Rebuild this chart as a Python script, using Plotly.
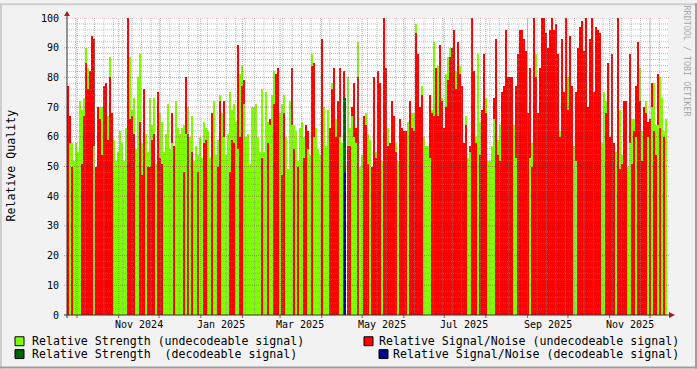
import pandas as pd
import plotly.graph_objects as go

# ---------------- data ----------------
SAMPLE_START = "2024-09-24 07:25"
SAMPLE_STEP_HOURS = 35.69

# Relative Strength (undecodeable signal)
strength = [
    0, 58, 58, 52, 58, 55, 72, 69, 73, 90, 83, 0, 0, 57, 0, 0, 70, 70, 0, 0,
    67, 87, 0, 59, 52, 55, 62, 58, 52, 63, 0, 87, 69, 73, 56, 80, 88, 58, 0, 61,
    55, 73, 64, 73, 51, 0, 68, 65, 55, 61, 71, 56, 58, 0, 72, 63, 61, 63, 64, 61,
    70, 60, 67, 52, 57, 54, 60, 53, 65, 63, 62, 53, 0, 72, 54, 59, 74, 68, 60, 54,
    61, 75, 69, 71, 65, 56, 81, 84, 71, 60, 61, 51, 70, 70, 71, 60, 55, 76, 55, 75,
    65, 64, 74, 82, 0, 0, 68, 71, 74, 60, 49, 72, 64, 64, 62, 52, 63, 65, 60, 0,
    56, 54, 88, 60, 63, 56, 54, 0, 70, 57, 69, 0, 78, 0, 66, 0, 60, 58, 0, 0,
    80, 63, 67, 60, 58, 92, 50, 54, 0, 68, 61, 59, 0, 0, 55, 0, 0, 52, 0, 0,
    63, 0, 0, 0, 58, 52, 0, 0, 0, 0, 65, 0, 68, 68, 98, 0, 0, 77, 60, 57,
    57, 53, 69, 92, 0, 84, 0, 73, 0, 81, 87, 90, 0, 0, 82, 0, 84, 0, 0, 67,
    53, 55, 0, 0, 60, 88, 65, 0, 0, 73, 52, 52, 57, 66, 0, 59, 64, 0, 0, 0,
    0, 0, 0, 64, 53, 0, 0, 0, 0, 0, 0, 53, 58, 0, 88, 0, 0, 0, 0, 0,
    0, 0, 0, 0, 0, 0, 62, 0, 0, 0, 80, 0, 0, 57, 52, 0, 0, 0, 0, 0,
    0, 0, 0, 0, 0, 0, 0, 58, 75, 72, 0, 0, 0, 0, 55, 0, 69, 54, 0, 0,
    50, 58, 66, 66, 60, 0, 83, 62, 0, 72, 60, 0, 70, 78, 64, 64, 80, 73, 62, 66,
]

# Relative Signal/Noise (undecodeable signal)
snr = [
    77, 67, 50, 0, 0, 0, 0, 51, 67, 85, 76, 82, 94, 93, 50, 70, 66, 54, 77, 78,
    59, 80, 68, 0, 0, 0, 0, 0, 0, 0, 100, 66, 67, 61, 0, 0, 65, 47, 76, 0,
    50, 50, 59, 61, 0, 75, 53, 51, 0, 0, 0, 0, 68, 57, 0, 0, 0, 0, 48, 80,
    61, 0, 55, 0, 0, 48, 0, 0, 58, 59, 0, 0, 68, 0, 0, 50, 72, 0, 72, 0,
    0, 48, 59, 58, 0, 91, 60, 77, 79, 0, 0, 0, 0, 0, 0, 0, 0, 53, 0, 0,
    58, 66, 0, 71, 81, 83, 0, 47, 68, 0, 0, 0, 83, 56, 0, 50, 0, 0, 53, 64,
    62, 0, 84, 85, 0, 0, 0, 93, 0, 0, 0, 63, 76, 83, 60, 72, 83, 0, 82, 0,
    57, 57, 70, 78, 63, 80, 0, 0, 67, 64, 51, 0, 50, 80, 53, 82, 78, 0, 100, 83,
    57, 58, 72, 67, 55, 0, 66, 63, 62, 62, 0, 72, 63, 62, 95, 88, 70, 74, 0, 0,
    0, 74, 68, 67, 83, 67, 91, 72, 63, 70, 79, 87, 90, 96, 76, 92, 81, 77, 58, 64,
    0, 57, 100, 82, 58, 0, 54, 69, 88, 68, 0, 0, 0, 73, 93, 54, 52, 75, 77, 96,
    80, 80, 80, 0, 77, 88, 96, 96, 93, 89, 68, 83, 50, 100, 80, 68, 83, 100, 100, 95,
    90, 96, 100, 96, 98, 88, 60, 93, 75, 100, 69, 94, 77, 0, 75, 90, 97, 99, 89, 100,
    70, 93, 100, 75, 97, 96, 95, 0, 0, 68, 85, 60, 88, 58, 0, 100, 49, 51, 72, 72,
    0, 88, 51, 62, 77, 92, 72, 52, 70, 68, 65, 66, 78, 62, 54, 81, 63, 0, 60, 0,
]

# Decodeable signal (only one sample in the period)
decoded_times = ["2025-04-18 08:00"]
decoded_strength = [73]
decoded_snr = [48]

month_labels = ["Nov 2024", "Jan 2025", "Mar 2025", "May 2025",
                "Jul 2025", "Sep 2025", "Nov 2025"]
month_label_dates = ["2024-11-16", "2025-01-16", "2025-03-16", "2025-05-16",
                     "2025-07-16", "2025-09-16", "2025-11-16"]
y_ticks = list(range(0, 101, 10))

# ---------------- styling ----------------
LIME = "#80FF00"
RED = "#FF0000"
DKGREEN = "#006400"
BLUE = "#000090"
FONT = "DejaVu Sans Mono"

W, H = 697, 369
PL, PR, PT, PB = 67, 668, 15, 315   # plot area in pixels


def px(x):
    return (x - PL) / (PR - PL)


def py(y):
    return (PB - y) / (PB - PT)


step = pd.Timedelta(hours=SAMPLE_STEP_HOURS)
times = pd.Timestamp(SAMPLE_START) + step * pd.RangeIndex(len(strength))
width_ms = step.total_seconds() * 1000 * 1.04

tall = [max(s, n) for s, n in zip(strength, snr)]
tall_col = [LIME if s >= n else RED for s, n in zip(strength, snr)]
short = [min(s, n) for s, n in zip(strength, snr)]
short_col = [LIME if s < n else RED for s, n in zip(strength, snr)]

fig = go.Figure()
fig.add_trace(go.Bar(x=times, y=tall, width=width_ms,
                     marker=dict(color=tall_col, line=dict(width=0)),
                     hoverinfo="skip", showlegend=False))
fig.add_trace(go.Bar(x=times, y=short, width=width_ms,
                     marker=dict(color=short_col, line=dict(width=0)),
                     hoverinfo="skip", showlegend=False))
fig.add_trace(go.Bar(x=pd.to_datetime(decoded_times), y=decoded_strength,
                     width=1.1 * 86400000,
                     marker=dict(color=DKGREEN, line=dict(width=0)),
                     hoverinfo="skip", showlegend=False))
fig.add_trace(go.Bar(x=pd.to_datetime(decoded_times), y=decoded_snr,
                     width=1.1 * 86400000,
                     marker=dict(color=BLUE, line=dict(width=0)),
                     hoverinfo="skip", showlegend=False))

shapes = []
GRID = "rgba(140,140,140,0.55)"
MGRID = "rgba(150,40,40,0.45)"
DOT = "1px,1px"

# horizontal grid
for v in range(2, 100, 2):
    if v % 10 == 0:
        continue
    shapes.append(dict(type="line", xref="paper", yref="y", x0=0, x1=1, y0=v, y1=v,
                       line=dict(color=GRID, width=1, dash=DOT), layer="above"))
for v in range(10, 101, 10):
    shapes.append(dict(type="line", xref="paper", yref="y", x0=px(PL - 3), x1=px(PR + 2),
                       y0=v, y1=v, line=dict(color=MGRID, width=1, dash=DOT), layer="above"))

# vertical grid: weeks (minor) and months (major)
for d in pd.date_range("2024-09-30", "2025-12-14", freq="7D"):
    shapes.append(dict(type="line", xref="x", yref="paper", x0=d, x1=d, y0=0, y1=1,
                       line=dict(color=GRID, width=1, dash=DOT), layer="above"))
for d in pd.date_range("2024-10-01", "2025-12-01", freq="MS"):
    shapes.append(dict(type="line", xref="x", yref="paper", x0=d, x1=d, y0=py(PB + 3), y1=1,
                       line=dict(color=MGRID, width=1, dash=DOT), layer="above"))
    shapes.append(dict(type="line", xref="x", yref="paper", x0=d, x1=d, y0=py(PB + 3), y1=0,
                       line=dict(color="rgba(190,60,60,0.8)", width=1), layer="above"))

# axes lines
AX = "#333333"
shapes.append(dict(type="line", xref="paper", yref="paper", x0=px(PL - 3), x1=px(PR + 3),
                   y0=0, y1=0, line=dict(color=AX, width=1), layer="above"))
shapes.append(dict(type="line", xref="paper", yref="paper", x0=0, x1=0,
                   y0=py(PB + 3), y1=py(PT - 4), line=dict(color=AX, width=1), layer="above"))
ARROW = "#A52020"
shapes.append(dict(type="path", xref="paper", yref="paper",
                   path=f"M {px(PL-3)} {py(13)} L {px(PL+3)} {py(13)} L {px(PL)} {py(8)} Z",
                   fillcolor=ARROW, line=dict(width=0), layer="above"))
shapes.append(dict(type="path", xref="paper", yref="paper",
                   path=f"M {px(669)} {py(PB-3)} L {px(669)} {py(PB+3)} L {px(675)} {py(PB)} Z",
                   fillcolor=ARROW, line=dict(width=0), layer="above"))

# frame (3D shade)
shapes.append(dict(type="line", xref="paper", yref="paper", x0=px(0), x1=px(W), y0=py(1), y1=py(1),
                   line=dict(color="#CFCFCF", width=2)))
shapes.append(dict(type="line", xref="paper", yref="paper", x0=px(1), x1=px(1), y0=py(0), y1=py(H),
                   line=dict(color="#CFCFCF", width=2)))
shapes.append(dict(type="line", xref="paper", yref="paper", x0=px(0), x1=px(W), y0=py(H - 1), y1=py(H - 1),
                   line=dict(color="#9E9E9E", width=2)))
shapes.append(dict(type="line", xref="paper", yref="paper", x0=px(W - 1), x1=px(W - 1), y0=py(0), y1=py(H),
                   line=dict(color="#9E9E9E", width=2)))

# legend
legend_items = [
    ("Relative Strength (undecodeable signal)", LIME, 15, 337, 30, "left"),
    ("Relative Signal/Noise (undecodeable signal)", RED, 364, 337, 681, "right"),
    ("Relative Strength  (decodeable signal)", DKGREEN, 15, 350, 30, "left"),
    ("Relative Signal/Noise (decodeable signal)", BLUE, 379, 350, 681, "right"),
]
annotations = []
for text, col, sx, sy, tx, anchor in legend_items:
    shapes.append(dict(type="rect", xref="paper", yref="paper",
                       x0=px(sx), x1=px(sx + 9), y0=py(sy), y1=py(sy + 9),
                       fillcolor=col, line=dict(color="#000000", width=1)))
    annotations.append(dict(text=text.replace(" ", "&nbsp;"), xref="paper", yref="paper",
                            x=px(tx), y=py(sy + 4.5), xanchor=anchor, yanchor="middle",
                            showarrow=False, font=dict(family=FONT, size=11.6, color="#000")))

for lab, d in zip(month_labels, month_label_dates):
    annotations.append(dict(text=lab, xref="x", yref="paper", x=d, y=py(324.5),
                            xanchor="center", yanchor="middle", showarrow=False,
                            font=dict(family=FONT, size=10, color="#000")))

annotations.append(dict(text="Relative Quality", xref="paper", yref="paper",
                        x=px(11), y=py(164), textangle=-90, xanchor="center", yanchor="middle",
                        showarrow=False, font=dict(family=FONT, size=11.6, color="#000")))
annotations.append(dict(text="RRDTOOL / TOBI OETIKER", xref="paper", yref="paper",
                        x=px(687), y=py(59), textangle=90, xanchor="center", yanchor="middle",
                        showarrow=False, font=dict(family=FONT, size=8.4, color="#A8A8A8")))

fig.update_layout(
    width=W, height=H,
    margin=dict(l=PL, r=W - PR, t=PT, b=H - PB, pad=0),
    paper_bgcolor="#F2F2F2", plot_bgcolor="#FFFFFF",
    barmode="overlay", bargap=0,
    showlegend=False,
    shapes=shapes, annotations=annotations,
    xaxis=dict(type="date", range=["2024-09-23 13:30", "2025-12-14 09:30"],
               showgrid=False, zeroline=False, showline=False,
               showticklabels=False, ticks="", fixedrange=True),
    yaxis=dict(range=[0, 100], tickvals=y_ticks, ticktext=[str(v) for v in y_ticks],
               showgrid=False, zeroline=False, showline=False,
               ticks="outside", ticklen=5, tickcolor="rgba(0,0,0,0)",
               tickfont=dict(family=FONT, size=10, color="#000"), fixedrange=True),
)

fig.write_html("out.html")
